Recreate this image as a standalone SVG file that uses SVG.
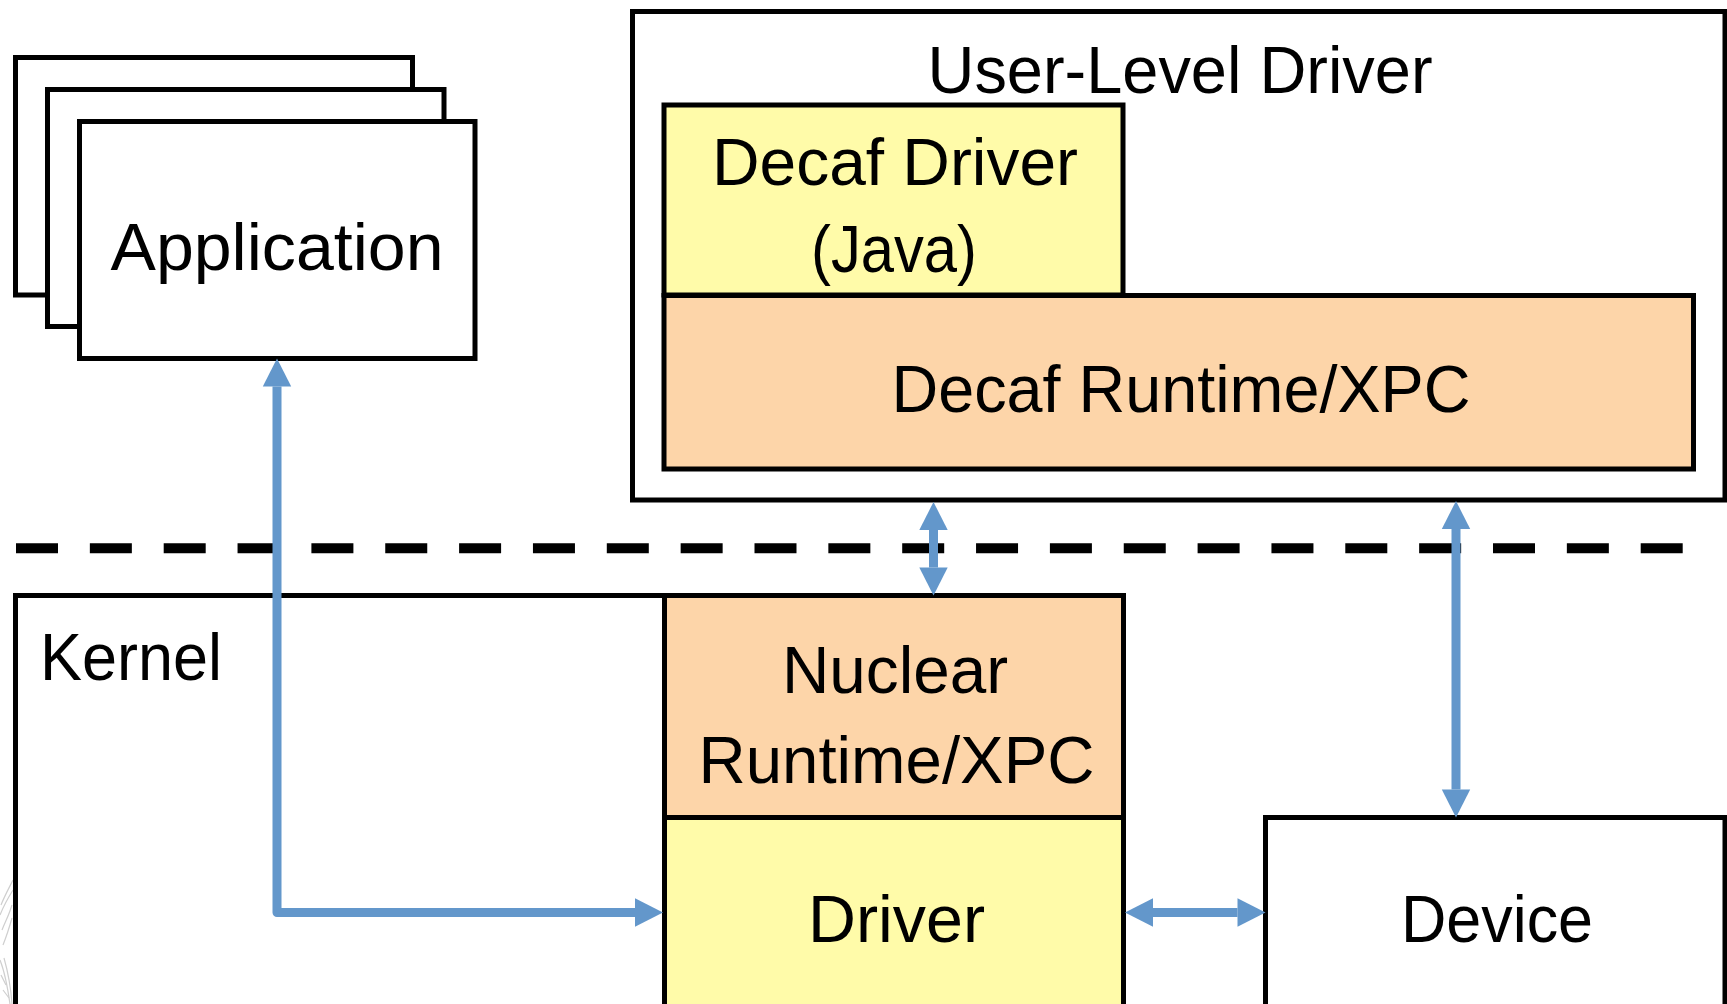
<svg xmlns="http://www.w3.org/2000/svg" width="1727" height="1004" viewBox="0 0 1727 1004">
  <style>
    .box { stroke: #000; stroke-width: 5; stroke-linejoin: miter; }
    .white { fill: #fff; }
    .yellow { fill: #FFFBA9; }
    .peach { fill: #FDD5A9; }
    .lbl { font-family: "Liberation Sans", Arial, sans-serif; font-size: 66px; fill: #000; }
    .mid { text-anchor: middle; }
    .conn { fill: none; stroke: #6397CB; stroke-width: 9; stroke-linejoin: round; }
    .sep { stroke: #000; stroke-width: 10; stroke-dasharray: 42 31.85; fill: none; }
  </style>
  <defs>
    <marker id="arrow" markerUnits="userSpaceOnUse" viewBox="0 0 28 28.4" markerWidth="28" markerHeight="28.4" refX="0" refY="14.2" orient="auto-start-reverse" overflow="visible">
      <path d="M0,0 L28,14.2 L0,28.4 Z" fill="#6397CB"/>
    </marker>
  </defs>
  <rect width="1727" height="1004" fill="#fff"/>

  <!-- faint cut-off graphic at left edge -->
  <g id="edge-graphic" fill="none" stroke="#cfcfcf" stroke-width="1.2">
    <path d="M1,905 C5,895 9,888 13,880"/>
    <path d="M0,915 C4,905 8,898 13,890"/>
    <path d="M2,930 C6,920 9,915 12,905 M3,945 C7,935 10,925 12,918"/>
    <path d="M0,960 C4,970 8,990 10,1004 M4,958 C8,972 11,990 12,1004"/>
    <path d="M1,975 L6,985 M3,990 L9,998"/>
  </g>

  <!-- separator -->
  <line id="separator" class="sep" x1="16" y1="548.3" x2="1683" y2="548.3"/>

  <!-- Application stack -->
  <g id="application">
    <rect class="box white" x="15.5" y="57.5" width="397" height="237.5"/>
    <rect class="box white" x="47.5" y="89.5" width="396.5" height="237"/>
    <rect class="box white" x="79.5" y="121.5" width="395.5" height="237"/>
    <text class="lbl mid" x="277" y="270" textLength="333" lengthAdjust="spacingAndGlyphs">Application</text>
  </g>

  <!-- User-level driver -->
  <g id="user-level-driver">
    <rect class="box white" x="632.5" y="11.5" width="1092.5" height="488.5"/>
    <text class="lbl mid" x="1180" y="93" textLength="505" lengthAdjust="spacingAndGlyphs">User-Level Driver</text>
  </g>
  <g id="decaf-driver">
    <rect class="box yellow" x="664" y="105" width="459" height="190"/>
    <text class="lbl mid" x="895" y="185" textLength="366" lengthAdjust="spacingAndGlyphs">Decaf Driver</text>
    <text class="lbl mid" x="894" y="272" textLength="166" lengthAdjust="spacingAndGlyphs">(Java)</text>
  </g>
  <g id="decaf-runtime">
    <rect class="box peach" x="664" y="295.5" width="1029.5" height="173.5"/>
    <text class="lbl mid" x="1181" y="411.5" textLength="579" lengthAdjust="spacingAndGlyphs">Decaf Runtime/XPC</text>
  </g>

  <!-- Kernel -->
  <g id="kernel">
    <rect class="box white" x="15.5" y="595.5" width="649" height="430"/>
    <text class="lbl" x="40" y="680" textLength="182" lengthAdjust="spacingAndGlyphs">Kernel</text>
  </g>
  <g id="nuclear-runtime">
    <rect class="box peach" x="664.5" y="595.5" width="459" height="222"/>
    <text class="lbl mid" x="895" y="692.5" textLength="226" lengthAdjust="spacingAndGlyphs">Nuclear</text>
    <text class="lbl mid" x="896.5" y="782.5" textLength="396" lengthAdjust="spacingAndGlyphs">Runtime/XPC</text>
  </g>
  <g id="driver">
    <rect class="box yellow" x="664.5" y="817.5" width="459" height="210"/>
    <text class="lbl mid" x="896.5" y="941.5" textLength="177" lengthAdjust="spacingAndGlyphs">Driver</text>
  </g>
  <g id="device">
    <rect class="box white" x="1265.5" y="817.5" width="459.5" height="210"/>
    <text class="lbl mid" x="1497" y="941.5" textLength="192" lengthAdjust="spacingAndGlyphs">Device</text>
  </g>

  <!-- connectors -->
  <g id="connectors">
    <path class="conn" d="M277,386.5 V912.5 H635" marker-start="url(#arrow)" marker-end="url(#arrow)"/>
    <path class="conn" d="M933.5,530 V567.5" marker-start="url(#arrow)" marker-end="url(#arrow)"/>
    <path class="conn" d="M1456,529 V789.5" marker-start="url(#arrow)" marker-end="url(#arrow)"/>
    <path class="conn" d="M1153,912.5 H1237.5" marker-start="url(#arrow)" marker-end="url(#arrow)"/>
  </g>
</svg>
